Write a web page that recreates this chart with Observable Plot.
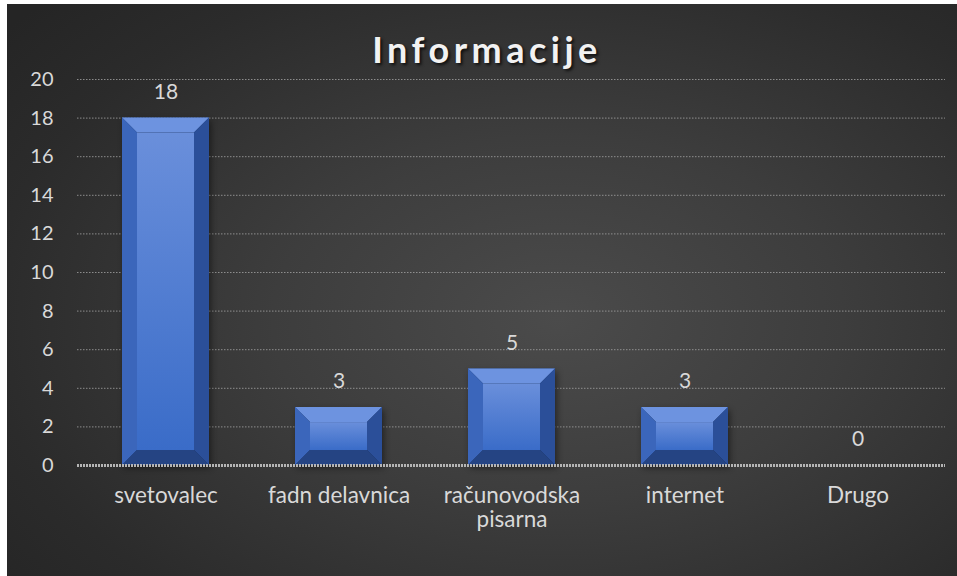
<!DOCTYPE html>
<html>
<head>
<meta charset="utf-8">
<script src="https://cdn.jsdelivr.net/npm/d3@7"></script>
<script src="https://cdn.jsdelivr.net/npm/@observablehq/plot@0.6"></script>
<style>
  html, body { margin: 0; padding: 0; background: #ffffff; }
  #frame {
    position: absolute; left: 7px; top: 4px; width: 950px; height: 572px; overflow: hidden;
    background: radial-gradient(ellipse 75% 80% at 58% 55%, #4b4b4b 0%, #3d3d3d 40%, #2b2b2b 80%, #252525 100%);
    font-family: Lato, "Open Sans", sans-serif;
  }
  #title {
    position: absolute; left: 0; width: 960px; top: 27px; text-align: center;
    font-family: Lato, sans-serif; font-weight: bold; font-size: 36px; line-height: 36px;
    letter-spacing: 4.5px; color: #f2f2f2;
    text-shadow: 2px 2px 3px rgba(0,0,0,0.7);
  }
  #chart { position: absolute; left: 0; top: 0; }
</style>
</head>
<body>
<div id="frame">
  <div id="chart"></div>
  <div id="title">Informacije</div>
</div>
<script>
const categories = ["svetovalec", "fadn delavnica", "računovodska pisarna", "internet", "Drugo"];
const values = [18, 3, 5, 3, 0];
const xTickLabels = ["svetovalec", "fadn delavnica", "računovodska\npisarna", "internet", "Drugo"];
const yTicks = [0, 2, 4, 6, 8, 10, 12, 14, 16, 18, 20];

const data = categories.map((c, i) => ({cat: c, value: values[i], label: xTickLabels[i]}));

// Bevel faces drawn with Plot's own scales
function bevel(index, scales, values_, dimensions, context) {
  const x = scales.x, y = scales.y;
  const bw = x.bandwidth();
  const g = d3.create("svg:g").style("filter", "drop-shadow(2px 3px 3px rgba(0,0,0,0.45))");
  const defs = g.append("defs");
  const grad = defs.append("linearGradient").attr("id", "faceGrad").attr("x1", 0).attr("y1", 0).attr("x2", 0).attr("y2", 1);
  grad.append("stop").attr("offset", "0%").attr("stop-color", "#6a8fdb");
  grad.append("stop").attr("offset", "100%").attr("stop-color", "#3a6cc8");
  for (const d of data) {
    if (!(d.value > 0)) continue;
    const x0 = x(d.cat), x1 = x0 + bw;
    const yt = y(d.value), yb = y(0);
    const b = Math.min(15, (yb - yt) / 2 - 2, bw / 2 - 2);
    const poly = (pts, fill) => g.append("polygon").attr("points", pts.map(p => p.join(",")).join(" ")).attr("fill", fill);
    poly([[x0, yt], [x1, yt], [x1 - b, yt + b], [x0 + b, yt + b]], "#6d93e0");
    poly([[x0, yt], [x0 + b, yt + b], [x0 + b, yb - b], [x0, yb]], "#3b66bb");
    poly([[x1, yt], [x1, yb], [x1 - b, yb - b], [x1 - b, yt + b]], "#2b4f99");
    poly([[x0, yb], [x1, yb], [x1 - b, yb - b], [x0 + b, yb - b]], "#254483");
    g.append("rect").attr("x", x0 + b).attr("y", yt + b).attr("width", x1 - x0 - 2 * b).attr("height", Math.max(0, yb - yt - 2 * b)).attr("fill", "url(#faceGrad)");
  }
  return g.node();
}

const chart = Plot.plot({
  width: 950,
  height: 572,
  marginTop: 75,
  marginBottom: 111,
  marginLeft: 70,
  marginRight: 12,
  style: {background: "transparent", color: "#d9d9d9", fontFamily: "Lato, 'Open Sans', sans-serif", fontSize: "20px", overflow: "visible"},
  x: {domain: categories, paddingInner: 0.5, paddingOuter: 0.25, axis: null},
  y: {domain: [0, 20], ticks: yTicks, label: null, tickSize: 0, tickPadding: 24},
  marks: [
    Plot.ruleY(yTicks.filter(t => t > 0), {stroke: "#9c9c9c", strokeWidth: 1, strokeDasharray: "1.5,1.5", strokeOpacity: 0.85}),
    Plot.barY(data, {x: "cat", y: "value", fill: "#2b4f99"}),
    bevel,
    Plot.ruleY([0], {stroke: "#b5b5b5", strokeWidth: 3, strokeDasharray: "2,1"}),
    Plot.text(data, {x: "cat", y: "value", text: d => String(d.value), dy: -26, fill: "#d9d9d9", fontSize: 21}),
    Plot.text(data, {x: "cat", frameAnchor: "bottom", text: "label", lineAnchor: "top", dy: 20, lineHeight: 1.08, fill: "#d9d9d9", fontSize: 22.5})
  ]
});
document.getElementById("chart").appendChild(chart);
</script>
</body>
</html>
